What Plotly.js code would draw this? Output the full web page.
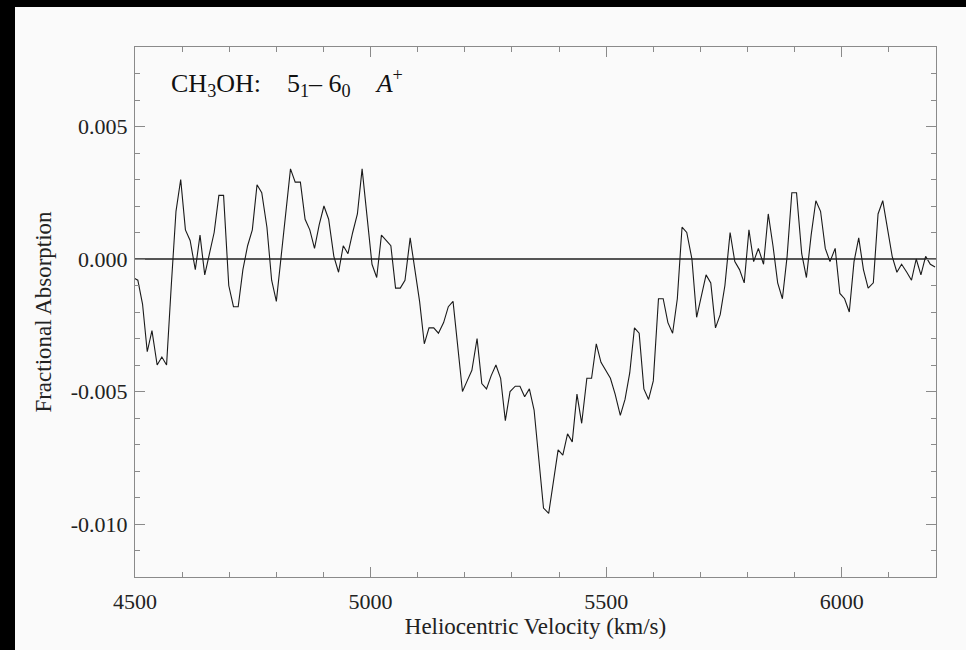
<!DOCTYPE html>
<html>
<head>
<meta charset="utf-8">
<script src="https://cdn.plot.ly/plotly-3.0.1.min.js"></script>
<style>
  html, body { margin: 0; padding: 0; background: #000; width: 966px; height: 650px; overflow: hidden; }
  #chart { position: absolute; left: 15px; top: 7px; width: 951px; height: 643px; }
</style>
</head>
<body>
<div id="chart"></div>
<script>
// Heliocentric velocity (km/s) of each spectral channel
const velocity = [
  4496, 4506, 4516, 4526, 4536, 4547, 4557, 4567, 4577, 4587, 4597,
  4607, 4617, 4628, 4638, 4648, 4658, 4668, 4678, 4688, 4699,
  4709, 4719, 4729, 4739, 4749, 4759, 4769, 4780, 4790, 4800,
  4810, 4820, 4830, 4840, 4851, 4861, 4871, 4881, 4891, 4901,
  4911, 4922, 4932, 4942, 4952, 4962, 4972, 4982, 4992, 5003,
  5013, 5023, 5033, 5043, 5053, 5063, 5073, 5084, 5094, 5104,
  5114, 5124, 5134, 5144, 5155, 5165, 5175, 5185, 5195, 5205,
  5215, 5226, 5236, 5246, 5256, 5266, 5276, 5286, 5296, 5307,
  5317, 5327, 5337, 5347, 5357, 5367, 5378, 5388, 5398, 5408,
  5418, 5428, 5438, 5448, 5459, 5469, 5479, 5489, 5499, 5509,
  5519, 5530, 5540, 5550, 5560, 5570, 5580, 5590, 5600, 5611,
  5621, 5631, 5641, 5651, 5661, 5671, 5682, 5692, 5702, 5712,
  5722, 5732, 5742, 5752, 5763, 5773, 5783, 5793, 5803, 5813,
  5823, 5834, 5844, 5854, 5864, 5874, 5884, 5894, 5904, 5915,
  5925, 5935, 5945, 5955, 5965, 5975, 5986, 5996, 6006, 6016,
  6026, 6036, 6046, 6056, 6067, 6077, 6087, 6097, 6107, 6117,
  6127, 6138, 6148, 6158, 6168, 6178, 6188, 6198
];

// Fractional absorption in each channel
const absorption = [
  -0.0007, -0.0008, -0.0017, -0.0035, -0.0027, -0.0040, -0.0037, -0.0040, -0.0010, 0.0018, 0.0030,
  0.0011, 0.0007, -0.0004, 0.0009, -0.0006, 0.0002, 0.0010, 0.0024, 0.0024, -0.0010,
  -0.0018, -0.0018, -0.0004, 0.0005, 0.0011, 0.0028, 0.0025, 0.0012, -0.0008, -0.0016,
  0.0000, 0.0017, 0.0034, 0.0029, 0.0029, 0.0015, 0.0011, 0.0004, 0.0013, 0.0020,
  0.0015, 0.0001, -0.0005, 0.0005, 0.0002, 0.0010, 0.0017, 0.0034, 0.0016, -0.0002,
  -0.0007, 0.0009, 0.0007, 0.0005, -0.0011, -0.0011, -0.0008, 0.0008, -0.0004, -0.0016,
  -0.0032, -0.0026, -0.0026, -0.0028, -0.0024, -0.0018, -0.0016, -0.0033, -0.0050, -0.0046,
  -0.0042, -0.0030, -0.0047, -0.0049, -0.0044, -0.0040, -0.0045, -0.0061, -0.0050, -0.0048,
  -0.0048, -0.0052, -0.0049, -0.0057, -0.0077, -0.0094, -0.0096, -0.0084, -0.0072, -0.0074,
  -0.0066, -0.0069, -0.0051, -0.0062, -0.0045, -0.0045, -0.0032, -0.0039, -0.0042, -0.0045,
  -0.0051, -0.0059, -0.0053, -0.0043, -0.0026, -0.0028, -0.0049, -0.0053, -0.0046, -0.0015,
  -0.0015, -0.0024, -0.0028, -0.0015, 0.0012, 0.0010, 0.0000, -0.0022, -0.0014, -0.0006,
  -0.0009, -0.0026, -0.0021, -0.0010, 0.0010, -0.0001, -0.0004, -0.0009, 0.0011, -0.0001,
  0.0004, -0.0002, 0.0017, 0.0005, -0.0009, -0.0015, 0.0001, 0.0025, 0.0025, 0.0002,
  -0.0007, 0.0009, 0.0022, 0.0018, 0.0004, -0.0001, 0.0004, -0.0013, -0.0015, -0.0020,
  -0.0001, 0.0008, -0.0004, -0.0011, -0.0009, 0.0017, 0.0022, 0.0012, 0.0001, -0.0005,
  -0.0002, -0.0005, -0.0008, 0.0000, -0.0006, 0.0001, -0.0002, -0.0003
];

// Axis tick labels
const xTickVals = [4500, 5000, 5500, 6000];
const xTickText = ['4500', '5000', '5500', '6000'];
const yTickVals = [-0.010, -0.005, 0.000, 0.005];
const yTickText = ['-0.010', '-0.005', '0.000', '0.005'];

const NB = '\u00a0';
const titleText = 'CH<sub>3</sub>OH:' + NB.repeat(4) + '5<sub>1</sub>' + '\u2013' + NB +
                  '6<sub>0</sub>' + NB.repeat(4) + '<i>A</i><sup>+</sup>';
const xTitle = 'Heliocentric Velocity (km/s)';
const yTitle = 'Fractional Absorption';

const FONT = 'Liberation Serif, Times New Roman, serif';
const AX = '#8a8a8a';
const TXT = '#222';

const trace = {
  x: velocity,
  y: absorption,
  type: 'scatter',
  mode: 'lines',
  line: { color: '#1a1a1a', width: 1.1 },
  hoverinfo: 'skip'
};

const layout = {
  width: 951,
  height: 643,
  margin: { l: 120, r: 30, t: 40, b: 73 },
  paper_bgcolor: '#fafafa',
  plot_bgcolor: '#fafafa',
  showlegend: false,
  font: { family: FONT, size: 22, color: TXT },
  xaxis: {
    range: [4500, 6200],
    tickmode: 'array',
    tickvals: xTickVals,
    ticktext: xTickText,
    ticks: 'inside',
    ticklen: 10,
    tickwidth: 1,
    tickcolor: AX,
    ticklabelstandoff: 5,
    minor: { ticks: 'inside', dtick: 100, tick0: 4500, ticklen: 5, tickcolor: AX, showgrid: false },
    showline: true,
    linecolor: AX,
    linewidth: 1,
    mirror: 'ticks',
    showgrid: false,
    zeroline: false,
    tickfont: { family: FONT, size: 22, color: TXT },
    title: { text: xTitle, font: { family: FONT, size: 23, color: TXT }, standoff: 3 }
  },
  yaxis: {
    range: [-0.012, 0.008],
    tickmode: 'array',
    tickvals: yTickVals,
    ticktext: yTickText,
    ticks: 'inside',
    ticklen: 10,
    tickwidth: 1,
    tickcolor: AX,
    ticklabelstandoff: 2,
    minor: { ticks: 'inside', dtick: 0.001, tick0: 0, ticklen: 5, tickcolor: AX, showgrid: false },
    showline: true,
    linecolor: AX,
    linewidth: 1,
    mirror: 'ticks',
    showgrid: false,
    zeroline: true,
    zerolinecolor: '#555',
    zerolinewidth: 1.3,
    tickfont: { family: FONT, size: 22, color: TXT },
    title: { text: yTitle, font: { family: FONT, size: 23, color: TXT }, standoff: 12 }
  },
  annotations: [{
    xref: 'paper', yref: 'paper',
    x: 0.043, y: 0.932,
    xanchor: 'left', yanchor: 'middle',
    text: titleText,
    showarrow: false,
    font: { family: FONT, size: 26, color: '#111' }
  }]
};

Plotly.newPlot('chart', [trace], layout, { displayModeBar: false, staticPlot: true });
</script>
</body>
</html>
